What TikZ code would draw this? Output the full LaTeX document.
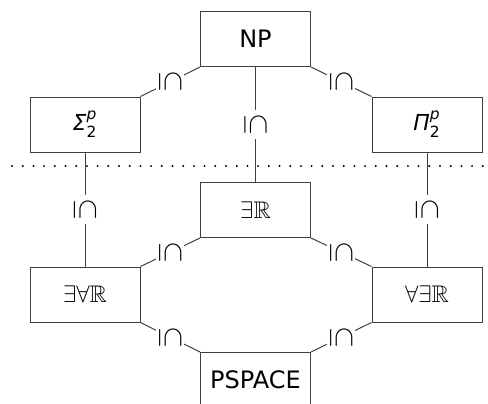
\documentclass[tikz,border=0pt]{standalone}
\usepackage{amssymb,amsmath}
\usepackage{fontspec}
\setmainfont{DejaVu Sans}
\usepackage{tikz}
\usetikzlibrary{calc}

\begin{document}
\begin{tikzpicture}[x=0.5pt,y=-0.5pt,
  cls/.style={draw=black!75,line width=0.5pt,minimum width=55pt,minimum height=27.5pt,inner sep=0pt,font=\fontsize{12}{14}\selectfont},
  sub/.style={rotate=-90,fill=white,inner sep=1.5pt,font=\fontsize{13.5}{15}\selectfont},
  link/.style={draw=black!75,line width=0.5pt}]
\useasboundingbox (0,0) rectangle (488,403);
\coordinate (cutl) at (12,166);
\coordinate (cutr) at (488,166);
\draw[line width=1.1pt,dash pattern=on 0pt off 5.35pt,line cap=round] (cutl) -- (cutr);

\node[cls] (np) at (255.5,39) {NP};
\node[cls,font=\fontsize{11}{13}\selectfont] (sig) at (85,124.5) {$\text{\itshape Σ}^{\text{\itshape p}}_{\text{2}}$};
\node[cls,font=\fontsize{11}{13}\selectfont] (pi) at (427,124.5) {$\text{\itshape Π}^{\text{\itshape p}}_{\text{2}}$};
\node[cls,font=\large] (er) at (255.5,210) {$\exists\mathbb{R}$};
\node[cls,font=\large] (ear) at (85,294.5) {$\exists\forall\mathbb{R}$};
\node[cls,font=\large] (aer) at (427,294.5) {$\forall\exists\mathbb{R}$};
\node[cls] (ps) at (255.5,380) {PSPACE};

\foreach \a/\b in {np.south west/sig.north east, np.south/er.north, np.south east/pi.north west,
    sig.south/ear.north, pi.south/aer.north, er.south west/ear.north east, er.south east/aer.north west,
    ear.south east/ps.north west, aer.south west/ps.north east}
  \draw[link] (\a) -- node[sub] {$\subseteq$} (\b);
\end{tikzpicture}
\end{document}
